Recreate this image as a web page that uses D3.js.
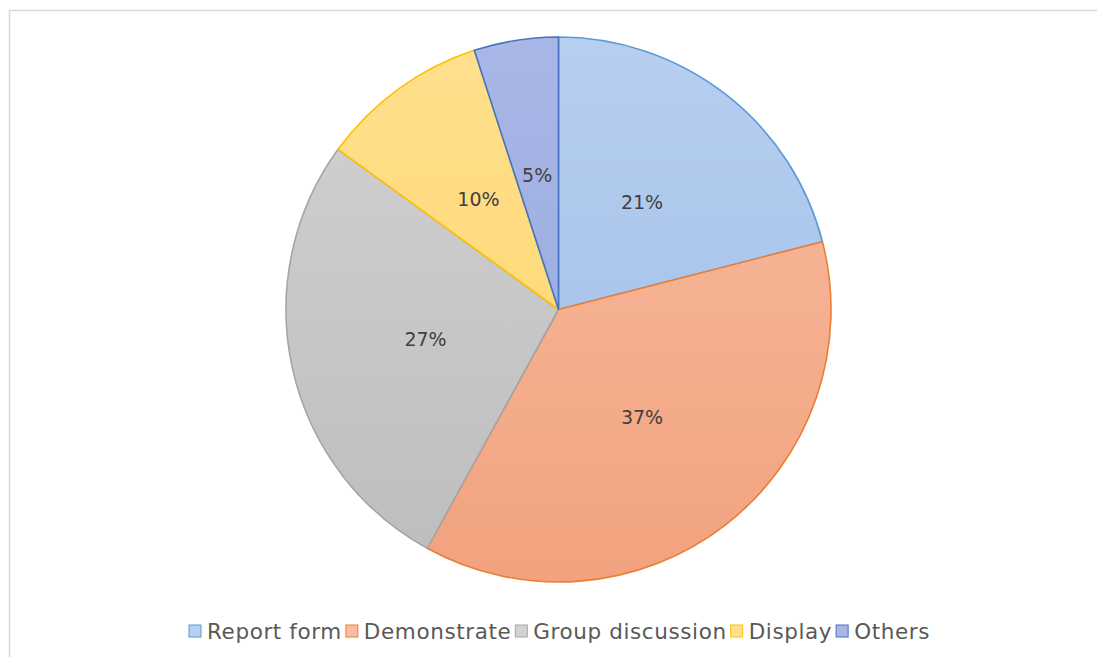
<!DOCTYPE html>
<html>
<head>
<meta charset="utf-8">
<script src="https://cdn.jsdelivr.net/npm/d3@7"></script>
<style>
  html, body { margin: 0; padding: 0; background: #ffffff; }
  svg { display: block; }
</style>
</head>
<body>
<svg id="chart" width="1097" height="657"></svg>
<script>
// Teaching method shares
const categories = ["Report form", "Demonstrate", "Group discussion", "Display", "Others"];
const shares = [21, 37, 27, 10, 5];
const fillTop = ["#b7cff0", "#f7bea2", "#d2d2d2", "#ffe08e", "#a9b7e6"];
const fillBottom = ["#9dbde8", "#f2a27e", "#bdbdbd", "#ffd46a", "#93a6dc"];
const strokes = ["#5b9bd5", "#ed7d31", "#a5a5a5", "#ffc000", "#4472c4"];

const svg = d3.select("#chart");
const W = 1097, H = 657;
const FONT = "DejaVu Sans, Verdana, sans-serif";

// chart area frame
svg.append("rect")
  .attr("x", 9.5).attr("y", 10.5)
  .attr("width", W).attr("height", H)
  .attr("fill", "#ffffff")
  .attr("stroke", "#d9d9d9").attr("stroke-width", 1.5);

const cx = 558.5, cy = 309.5, R = 272.5;

const defs = svg.append("defs");
categories.forEach((c, i) => {
  const g = defs.append("linearGradient")
    .attr("id", "grad" + i)
    .attr("gradientUnits", "userSpaceOnUse")
    .attr("x1", 0).attr("y1", -R).attr("x2", 0).attr("y2", R);
  g.append("stop").attr("offset", "0%").attr("stop-color", fillTop[i]);
  g.append("stop").attr("offset", "100%").attr("stop-color", fillBottom[i]);
});

const pie = d3.pie().sort(null).value(d => d);
const arcs = pie(shares);
const arc = d3.arc().innerRadius(0).outerRadius(R);

const g = svg.append("g").attr("transform", `translate(${cx},${cy})`);

g.selectAll("path.slice")
  .data(arcs)
  .join("path")
  .attr("class", "slice")
  .attr("d", arc)
  .attr("fill", (d, i) => `url(#grad${i})`)
  .attr("stroke", (d, i) => strokes[i])
  .attr("stroke-width", 1.6)
  .attr("stroke-linejoin", "round");

g.selectAll("text.pct")
  .data(arcs)
  .join("text")
  .attr("class", "pct")
  .attr("x", d => arc.centroid(d)[0])
  .attr("y", d => arc.centroid(d)[1])
  .attr("text-anchor", "middle")
  .attr("dominant-baseline", "central")
  .attr("font-family", FONT)
  .attr("font-size", 19)
  .attr("fill", "#404040")
  .text(d => d.data + "%");

// legend
const legend = svg.append("g");
const fontSize = 21.5;
const swatch = 12, gapText = 6, gapItem = 4;
const targetWidth = 741;
const items = legend.selectAll("g.item")
  .data(categories)
  .join("g").attr("class", "item");
items.append("rect")
  .attr("width", swatch).attr("height", swatch)
  .attr("y", -swatch / 2)
  .attr("fill", (d, i) => fillTop[i])
  .attr("stroke", (d, i) => strokes[i])
  .attr("stroke-width", 1);
const labels = items.append("text")
  .attr("x", swatch + gapText)
  .attr("y", 7.5)
  .attr("font-family", FONT)
  .attr("font-size", fontSize)
  .attr("fill", "#595959")
  .text(d => d);

// spread letters so the row spans the target width
let raw = 0, chars = 0;
labels.each(function(d) { raw += this.getComputedTextLength(); chars += d.length; });
const fixed = categories.length * (swatch + gapText) + (categories.length - 1) * gapItem;
const spacing = Math.max(0, (targetWidth - fixed - raw) / chars);
labels.attr("letter-spacing", spacing);

let xPos = 0;
const offsets = [];
labels.each(function(d) {
  offsets.push(xPos);
  xPos += swatch + gapText + this.getComputedTextLength() + gapItem;
});
const total = xPos - gapItem;
const startX = 559.5 - total / 2;
items.attr("transform", (d, i) => `translate(${startX + offsets[i]},631)`);
</script>
</body>
</html>
